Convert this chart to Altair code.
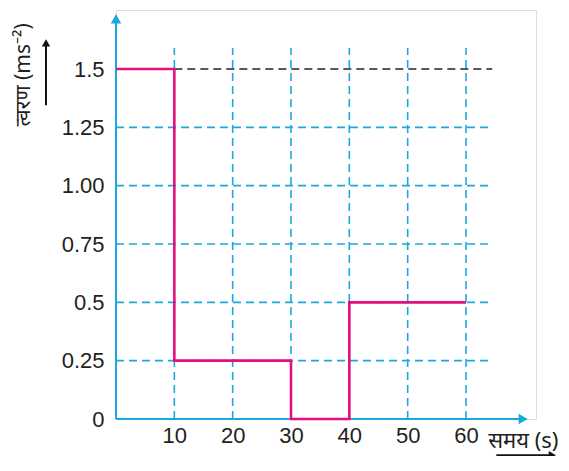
import altair as alt
import pandas as pd

# Data
step_x = [0, 10, 30, 40, 60]
step_y = [1.5, 0.25, 0, 0.5, 0.5]

x_ticks = [10, 20, 30, 40, 50, 60]
y_ticks = [0, 0.25, 0.5, 0.75, 1.0, 1.25, 1.5]
y_tick_labels = ["0", "0.25", "0.5", "0.75", "1.00", "1.25", "1.5"]

x_title = "समय (s)"
y_title = "त्वरण (ms⁻²)"

CYAN = "#1ba8e0"
MAGENTA = "#e5107f"
TXT = "#231f20"
FONT = "Liberation Sans"

X_DOM = [0, 72]
Y_DOM = [0, 1.7529]

xs = alt.Scale(domain=X_DOM, nice=False, zero=False)
ys = alt.Scale(domain=Y_DOM, nice=False, zero=False)

keys = ["0", "0.25", "0.5", "0.75", "1", "1.25", "1.5"]
label_expr = "{" + ",".join(f"'{k}':'{l}'" for k, l in zip(keys, y_tick_labels)) + "}[datum.value+'']"

base_axis = dict(grid=False, domain=False, ticks=False, labelFontSize=22,
                 labelColor=TXT, labelFont=FONT, title=None)

DASH = [8, 5]

# vertical gridlines
vgrid = pd.DataFrame({"x": x_ticks, "y0": 0, "y1": 1.59})
vg = alt.Chart(vgrid).mark_rule(color=CYAN, strokeWidth=1.6, strokeDash=DASH).encode(
    x=alt.X("x:Q", scale=xs, axis=alt.Axis(values=x_ticks, labelPadding=6, **base_axis)),
    y=alt.Y("y0:Q", scale=ys, axis=alt.Axis(values=y_ticks, labelExpr=label_expr, labelPadding=12, **base_axis)),
    y2="y1:Q",
)

# horizontal gridlines
hg_df = pd.DataFrame({"y": [0.25, 0.5, 0.75, 1.0, 1.25], "x0": 0, "x1": 64.5})
hg = alt.Chart(hg_df).mark_rule(color=CYAN, strokeWidth=1.6, strokeDash=DASH).encode(
    y=alt.Y("y:Q", scale=ys), x=alt.X("x0:Q", scale=xs), x2="x1:Q")

top_df = pd.DataFrame({"y": [1.5], "x0": [10], "x1": [64.5]})
top = alt.Chart(top_df).mark_rule(color="#222222", strokeWidth=1.6, strokeDash=DASH).encode(
    y=alt.Y("y:Q", scale=ys), x=alt.X("x0:Q", scale=xs), x2="x1:Q")

# axis lines
ax_df = pd.DataFrame({"x0": [0, 0], "y0": [0, 0], "x1": [0, 69.5], "y1": [1.73, 0]})
axes = alt.Chart(ax_df).mark_rule(color=CYAN, strokeWidth=2).encode(
    x=alt.X("x0:Q", scale=xs), y=alt.Y("y0:Q", scale=ys), x2="x1:Q", y2="y1:Q")

arr_df = pd.DataFrame({"x": [0, 69.8], "y": [1.715, 0], "shape": ["triangle-up", "triangle-right"]})
arrows = alt.Chart(arr_df).mark_point(filled=True, color=CYAN, size=110, opacity=1).encode(
    x=alt.X("x:Q", scale=xs), y=alt.Y("y:Q", scale=ys),
    shape=alt.Shape("shape:N", scale=None))

# step line
step_df = pd.DataFrame({"x": step_x, "y": step_y})
line = alt.Chart(step_df).mark_line(color=MAGENTA, strokeWidth=2.6, interpolate="step-after").encode(
    x=alt.X("x:Q", scale=xs), y=alt.Y("y:Q", scale=ys))

# titles
ytitle = alt.Chart(pd.DataFrame({"x": [-15.8], "y": [1.475], "t": [y_title]})).mark_text(
    angle=270, fontSize=21, font="Noto Sans", color=TXT, align="center", baseline="middle").encode(
    x=alt.X("x:Q", scale=xs), y=alt.Y("y:Q", scale=ys), text="t:N")

xtitle = alt.Chart(pd.DataFrame({"x": [63.8], "y": [-0.095], "t": [x_title]})).mark_text(
    fontSize=22, font="Noto Sans", color=TXT, align="left", baseline="middle").encode(
    x=alt.X("x:Q", scale=xs), y=alt.Y("y:Q", scale=ys), text="t:N")

# title arrows
ta_df = pd.DataFrame({"x0": [-12.0, 65.2], "y0": [1.345, -0.155], "x1": [-12.0, 74.3], "y1": [1.6, -0.155]})
tarrow = alt.Chart(ta_df).mark_rule(color="#111111", strokeWidth=2).encode(
    x=alt.X("x0:Q", scale=xs), y=alt.Y("y0:Q", scale=ys), x2="x1:Q", y2="y1:Q")
th_df = pd.DataFrame({"x": [-12.0, 74.8], "y": [1.612, -0.155], "shape": ["triangle-up", "triangle-right"]})
theads = alt.Chart(th_df).mark_point(filled=True, color="#111111", size=70, opacity=1).encode(
    x=alt.X("x:Q", scale=xs), y=alt.Y("y:Q", scale=ys),
    shape=alt.Shape("shape:N", scale=None))

chart = alt.layer(vg, hg, top, axes, arrows, line, ytitle, xtitle, tarrow, theads).properties(
    width=420, height=409,
    autosize=alt.AutoSizeParams(type="none"),
    padding={"left": 108, "top": 2, "right": 25, "bottom": 37},
).configure_view(stroke=None).configure(background="white")

chart.save("out.html", embed_options={"renderer": "svg", "actions": False})
